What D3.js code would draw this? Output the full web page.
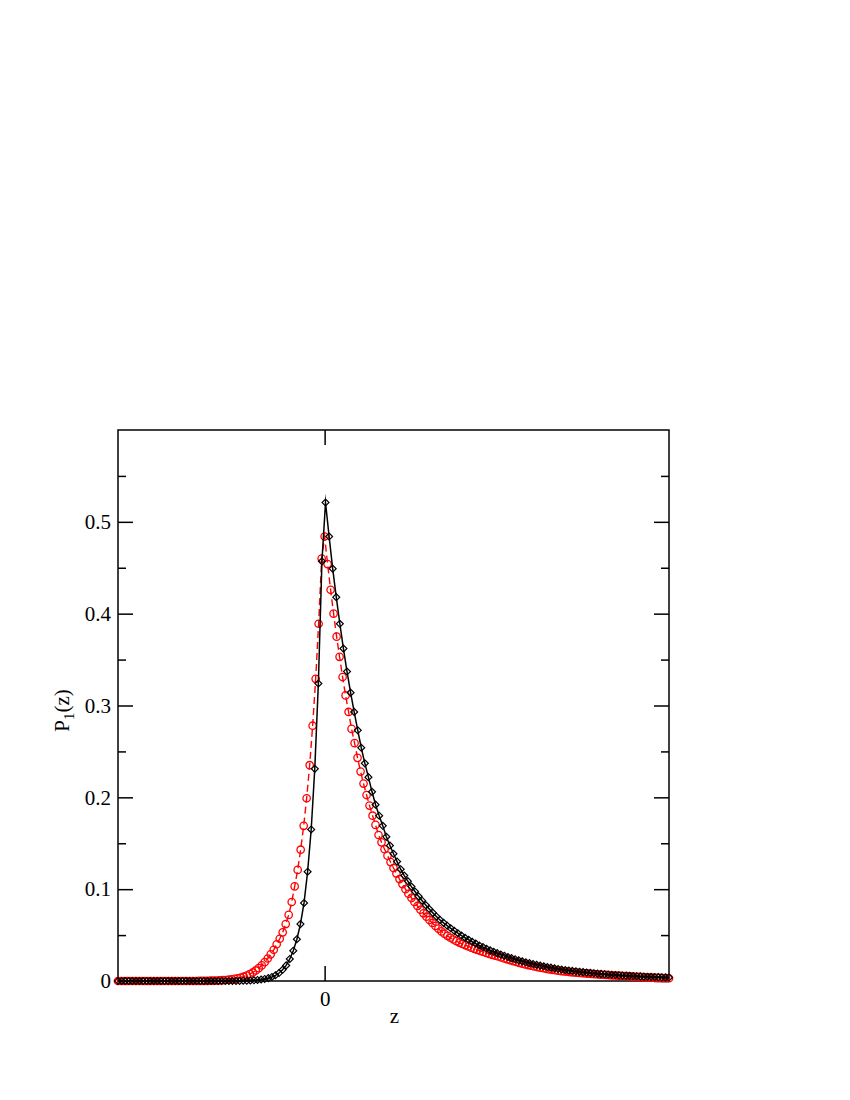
<!DOCTYPE html>
<html>
<head>
<meta charset="utf-8">
<script src="https://cdn.jsdelivr.net/npm/d3@7"></script>
<style>
  body { margin: 0; background: #fff; }
  svg text { font-family: "Times New Roman", "Liberation Serif", "DejaVu Serif", serif; }
</style>
</head>
<body>
<div id="chart"></div>
<script>
// black series (diamonds, solid line)
const zBlack = [
  -3.000, -2.948, -2.896, -2.844, -2.792, -2.740, -2.688, -2.636, -2.584, -2.532,
  -2.481, -2.429, -2.377, -2.325, -2.273, -2.221, -2.169, -2.117, -2.065, -2.013,
  -1.961, -1.909, -1.857, -1.805, -1.753, -1.701, -1.649, -1.597, -1.545, -1.494,
  -1.442, -1.390, -1.338, -1.286, -1.234, -1.182, -1.130, -1.078, -1.026, -0.974,
  -0.922, -0.870, -0.818, -0.766, -0.714, -0.662, -0.610, -0.558, -0.506, -0.455,
  -0.403, -0.351, -0.299, -0.247, -0.195, -0.143, -0.091, -0.039, 0.013, 0.065,
  0.117, 0.169, 0.221, 0.273, 0.325, 0.377, 0.429, 0.481, 0.532, 0.584,
  0.636, 0.688, 0.740, 0.792, 0.844, 0.896, 0.948, 1.000, 1.052, 1.104,
  1.156, 1.208, 1.260, 1.312, 1.364, 1.416, 1.468, 1.519, 1.571, 1.623,
  1.675, 1.727, 1.779, 1.831, 1.883, 1.935, 1.987, 2.039, 2.091, 2.143,
  2.195, 2.247, 2.299, 2.351, 2.403, 2.455, 2.506, 2.558, 2.610, 2.662,
  2.714, 2.766, 2.818, 2.870, 2.922, 2.974, 3.026, 3.078, 3.130, 3.182,
  3.234, 3.286, 3.338, 3.390, 3.442, 3.494, 3.545, 3.597, 3.649, 3.701,
  3.753, 3.805, 3.857, 3.909, 3.961, 4.013, 4.065, 4.117, 4.169, 4.221,
  4.273, 4.325, 4.377, 4.429, 4.481, 4.532, 4.584, 4.636, 4.688, 4.740,
  4.792, 4.844, 4.896, 4.948, 5.000
];
const pBlack = [
  0, 0, 0, 0, 0, 0, 0, 0, 0, 0,
  0, 0, 0, 0, 0, 0, 0, 0, 0, 0,
  0, 0, 0, 0, 0, 0, 0, 0, 0, 0,
  0, 0, 0, 0.0001, 0.0002, 0.0003, 0.0004, 0.0006, 0.0008, 0.0011,
  0.0016, 0.0022, 0.0031, 0.0044, 0.0062, 0.0087, 0.0122, 0.017, 0.024, 0.033,
  0.0455, 0.062, 0.085, 0.119, 0.165, 0.231, 0.324, 0.457, 0.521, 0.484,
  0.449, 0.418, 0.389, 0.362, 0.337, 0.314, 0.293, 0.273, 0.254, 0.237,
  0.222, 0.206, 0.192, 0.180, 0.169, 0.157, 0.1475, 0.1385, 0.130, 0.1217,
  0.1148, 0.1087, 0.1028, 0.0974, 0.0922, 0.0874, 0.0827, 0.0784, 0.0742, 0.0703,
  0.0665, 0.0633, 0.0603, 0.0574, 0.0546, 0.0520, 0.0495, 0.0471, 0.0449, 0.0427,
  0.0407, 0.0387, 0.0369, 0.0351, 0.0334, 0.0318, 0.0303, 0.0288, 0.0274, 0.0261,
  0.0249, 0.0237, 0.0225, 0.0214, 0.0204, 0.0194, 0.0185, 0.0176, 0.0168, 0.0160,
  0.0152, 0.0145, 0.0138, 0.0131, 0.0125, 0.0120, 0.0115, 0.0110, 0.0105, 0.0100,
  0.0096, 0.0092, 0.0088, 0.0084, 0.0080, 0.0077, 0.0074, 0.0071, 0.0068, 0.0065,
  0.0062, 0.0060, 0.0058, 0.0056, 0.0054, 0.0052, 0.0050, 0.0048, 0.0046, 0.0045,
  0.0043, 0.0042, 0.0040, 0.0039, 0.0038
];

// red series (circles, dashed line)
const zRed = [
  -3.000, -2.957, -2.913, -2.870, -2.826, -2.783, -2.739, -2.696, -2.652, -2.609,
  -2.565, -2.522, -2.478, -2.435, -2.391, -2.348, -2.304, -2.261, -2.217, -2.174,
  -2.130, -2.087, -2.043, -2.000, -1.957, -1.913, -1.870, -1.826, -1.783, -1.739,
  -1.696, -1.652, -1.609, -1.565, -1.522, -1.478, -1.435, -1.391, -1.348, -1.304,
  -1.261, -1.217, -1.174, -1.130, -1.087, -1.043, -1.000, -0.957, -0.913, -0.870,
  -0.826, -0.783, -0.739, -0.696, -0.652, -0.609, -0.565, -0.522, -0.478, -0.435,
  -0.391, -0.348, -0.304, -0.261, -0.217, -0.174, -0.130, -0.087, -0.043, 0.000,
  0.043, 0.087, 0.130, 0.174, 0.217, 0.261, 0.304, 0.348, 0.391, 0.435,
  0.478, 0.522, 0.565, 0.609, 0.652, 0.696, 0.739, 0.783, 0.826, 0.870,
  0.913, 0.957, 1.000, 1.043, 1.087, 1.130, 1.174, 1.217, 1.261, 1.304,
  1.348, 1.391, 1.435, 1.478, 1.522, 1.565, 1.609, 1.652, 1.696, 1.739,
  1.783, 1.826, 1.870, 1.913, 1.957, 2.000, 2.043, 2.087, 2.130, 2.174,
  2.217, 2.261, 2.304, 2.348, 2.391, 2.435, 2.478, 2.522, 2.565, 2.609,
  2.652, 2.696, 2.739, 2.783, 2.826, 2.870, 2.913, 2.957, 3.000, 3.043,
  3.087, 3.130, 3.174, 3.217, 3.261, 3.304, 3.348, 3.391, 3.435, 3.478,
  3.522, 3.565, 3.609, 3.652, 3.696, 3.739, 3.783, 3.826, 3.870, 3.913,
  3.957, 4.000, 4.043, 4.087, 4.130, 4.174, 4.217, 4.261, 4.304, 4.348,
  4.391, 4.435, 4.478, 4.522, 4.565, 4.609, 4.652, 4.696, 4.739, 4.783,
  4.826, 4.870, 4.913, 4.957, 5.000
];
const pRed = [
  0, 0, 0, 0, 0, 0, 0, 0, 0, 0,
  0, 0, 0, 0, 0, 0, 0, 0, 0, 0,
  0, 0, 0, 0, 0, 0, 0, 0.0001, 0.0001, 0.0002,
  0.0002, 0.0003, 0.0004, 0.0005, 0.0007, 0.0009, 0.0011, 0.0014, 0.0018, 0.0023,
  0.0029, 0.0037, 0.0047, 0.0060, 0.0075, 0.0093, 0.0115, 0.014, 0.017, 0.0205,
  0.0245, 0.029, 0.034, 0.040, 0.046, 0.053, 0.062, 0.072, 0.086, 0.103,
  0.121, 0.143, 0.169, 0.199, 0.235, 0.278, 0.329, 0.389, 0.460, 0.484,
  0.454, 0.426, 0.400, 0.375, 0.353, 0.331, 0.311, 0.293, 0.2745, 0.259,
  0.243, 0.228, 0.215, 0.2025, 0.191, 0.180, 0.170, 0.159, 0.151, 0.1435,
  0.1365, 0.1295, 0.123, 0.117, 0.111, 0.1055, 0.100, 0.095, 0.0905, 0.086,
  0.0817, 0.0776, 0.0737, 0.070, 0.0665, 0.0632, 0.060, 0.057, 0.054, 0.0515,
  0.0492, 0.0471, 0.0452, 0.0434, 0.0418, 0.0403, 0.0389, 0.0376, 0.0363, 0.0350,
  0.0338, 0.0327, 0.0316, 0.0305, 0.0295, 0.0285, 0.0276, 0.0267, 0.0257, 0.0246,
  0.0236, 0.0226, 0.0216, 0.0207, 0.0198, 0.0189, 0.0181, 0.0173, 0.0166, 0.0159,
  0.0152, 0.0145, 0.0139, 0.0133, 0.0127, 0.0122, 0.0117, 0.0112, 0.0107, 0.0104,
  0.0101, 0.0097, 0.0094, 0.0091, 0.0088, 0.0085, 0.0083, 0.0080, 0.0077, 0.0075,
  0.0073, 0.0070, 0.0068, 0.0066, 0.0064, 0.0062, 0.0060, 0.0058, 0.0056, 0.0054,
  0.0052, 0.0050, 0.0048, 0.0046, 0.0044, 0.0043, 0.0041, 0.0039, 0.0038, 0.0036,
  0.0035, 0.0034, 0.0032, 0.0031, 0.0030
];

const xTicks = [0];
const yTicks = [0, 0.1, 0.2, 0.3, 0.4, 0.5];
const yMinorTicks = [0.05, 0.15, 0.25, 0.35, 0.45, 0.55];

const margin = { top: 430, right: 181, bottom: 119, left: 118 };
const width = 850 - margin.left - margin.right;
const height = 1100 - margin.top - margin.bottom;
const serif = "'Times New Roman', 'Liberation Serif', 'DejaVu Serif', serif";

const svg = d3
  .select("#chart")
  .append("svg")
  .attr("width", 850)
  .attr("height", 1100);

const g = svg
  .append("g")
  .attr("transform", `translate(${margin.left}, ${margin.top})`);

const x = d3.scaleLinear().domain([-3, 5]).range([0, width]);
const y = d3.scaleLinear().domain([0, 0.6]).range([height, 0]);

const black = zBlack.map((z, i) => ({ z: z, p: pBlack[i] }));
const red = zRed.map((z, i) => ({ z: z, p: pRed[i] }));

const line = d3
  .line()
  .x((d) => x(d.z))
  .y((d) => y(d.p));

// ticks: major inward, mirrored on opposite side
const majorLen = 15;
const minorLen = 8;

g.append("g")
  .attr("transform", `translate(0, ${height})`)
  .call(d3.axisBottom(x).tickValues(xTicks).tickSize(-majorLen).tickPadding(10).tickFormat(d3.format("d")));
g.append("g")
  .call(d3.axisTop(x).tickValues(xTicks).tickSize(-majorLen).tickFormat(""));

g.append("g")
  .call(d3.axisLeft(y).tickValues(yTicks).tickSize(-majorLen).tickPadding(7)
    .tickFormat((d) => (d === 0 ? "0" : d3.format(".1f")(d))));
g.append("g")
  .call(d3.axisLeft(y).tickValues(yMinorTicks).tickSize(-minorLen).tickFormat(""));
g.append("g")
  .attr("transform", `translate(${width}, 0)`)
  .call(d3.axisRight(y).tickValues(yTicks).tickSize(-majorLen).tickFormat(""));
g.append("g")
  .attr("transform", `translate(${width}, 0)`)
  .call(d3.axisRight(y).tickValues(yMinorTicks).tickSize(-minorLen).tickFormat(""));

g.selectAll(".domain").remove();
g.selectAll("g").attr("font-family", null);
g.selectAll(".tick line").attr("stroke", "#000").attr("stroke-width", 1.5);
g.selectAll(".tick text")
  .attr("fill", "#000")
  .style("font-size", "21px")
  .style("font-family", serif);

// frame
g.append("rect")
  .attr("x", 0)
  .attr("y", 0)
  .attr("width", width)
  .attr("height", height)
  .attr("fill", "none")
  .attr("stroke", "#000")
  .attr("stroke-width", 1.5);

// red dashed line + circles
g.append("path")
  .datum(red)
  .attr("d", line)
  .attr("fill", "none")
  .attr("stroke", "#ff0000")
  .attr("stroke-width", 1.4)
  .attr("stroke-dasharray", "7,4")
  .attr("stroke-miterlimit", 20);

g.selectAll(".red-pt")
  .data(red)
  .enter()
  .append("circle")
  .attr("class", "red-pt")
  .attr("cx", (d) => x(d.z))
  .attr("cy", (d) => y(d.p))
  .attr("r", 3.7)
  .attr("fill", "none")
  .attr("stroke", "#ff0000")
  .attr("stroke-width", 1.3);

// black solid line + diamonds
g.append("path")
  .datum(black)
  .attr("d", line)
  .attr("fill", "none")
  .attr("stroke", "#000")
  .attr("stroke-width", 1.5)
  .attr("stroke-miterlimit", 30);

const diamond = d3.symbol().type(d3.symbolSquare).size(24);
g.selectAll(".black-pt")
  .data(black)
  .enter()
  .append("path")
  .attr("class", "black-pt")
  .attr("d", diamond)
  .attr("transform", (d) => `translate(${x(d.z)}, ${y(d.p)}) rotate(45)`)
  .attr("fill", "none")
  .attr("stroke", "#000")
  .attr("stroke-width", 1.2);

// axis labels
g.append("text")
  .attr("x", width / 2 + 1)
  .attr("y", height + 42)
  .attr("text-anchor", "middle")
  .style("font-family", serif)
  .style("font-size", "21px")
  .text("z");

const yLabel = g
  .append("text")
  .attr("transform", `translate(-49, ${height / 2 + 5}) rotate(-90)`)
  .attr("text-anchor", "middle")
  .style("font-family", serif)
  .style("font-size", "21px");
yLabel.append("tspan").text("P");
yLabel.append("tspan").attr("dy", 5).style("font-size", "15px").text("1");
yLabel.append("tspan").attr("dy", -5).text("(z)");
</script>
</body>
</html>
